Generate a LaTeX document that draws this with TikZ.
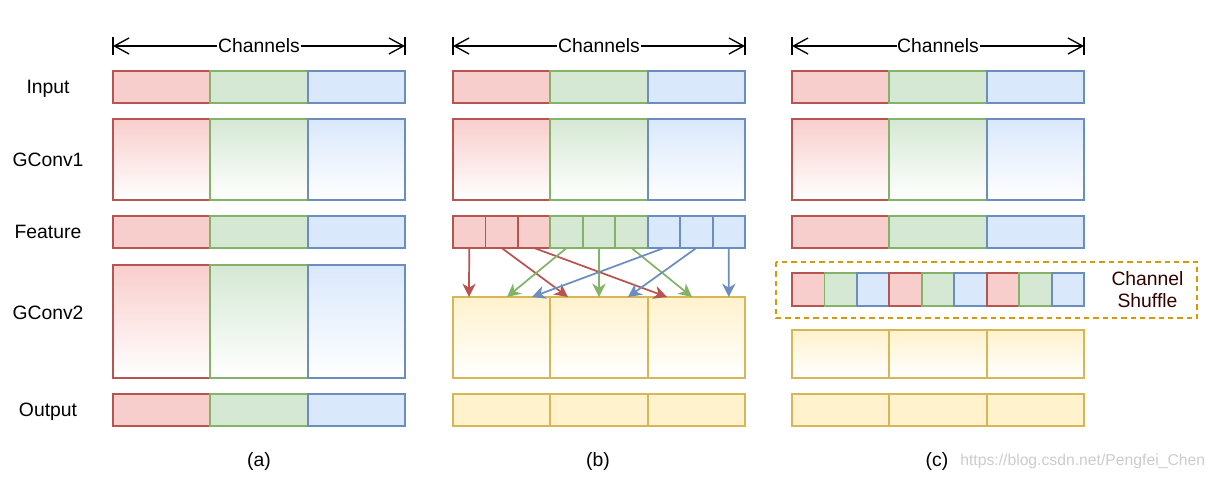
\documentclass[tikz,border=0pt]{standalone}
\usepackage{fontspec}
\setmainfont{Liberation Sans}
\usetikzlibrary{arrows.meta}
\definecolor{rfill}{HTML}{F8CECC}\definecolor{rline}{HTML}{B85450}
\definecolor{gfill}{HTML}{D5E8D4}\definecolor{gline}{HTML}{82B366}
\definecolor{bfill}{HTML}{DAE8FC}\definecolor{bline}{HTML}{6C8EBF}
\definecolor{yfill}{HTML}{FFF2CC}\definecolor{yline}{HTML}{D6B656}
\definecolor{oline}{HTML}{D79B00}\definecolor{dtext}{HTML}{330000}
\tikzset{
  cell/.style={draw, line width=1.4pt, inner sep=0pt, outer sep=0pt, anchor=north west},
  rplain/.style={cell, draw=rline, fill=rfill},
  gplain/.style={cell, draw=gline, fill=gfill},
  bplain/.style={cell, draw=bline, fill=bfill},
  yplain/.style={cell, draw=yline, fill=yfill},
  rgrad/.style={cell, draw=rline, top color=rfill, bottom color=white},
  ggrad/.style={cell, draw=gline, top color=gfill, bottom color=white},
  bgrad/.style={cell, draw=bline, top color=bfill, bottom color=white},
  ygrad/.style={cell, draw=yline, top color=yfill, bottom color=white},
  lbl/.style={font=\fontsize{14.5}{17}\selectfont, inner sep=0pt, text height=10.4pt, text depth=0pt},
  chan/.style={line width=1pt, {Straight Barb[length=11pt,width=12pt]}-{Straight Barb[length=11pt,width=12pt]}},
  mix/.style={line width=1.3pt, -{Stealth[length=10pt,width=10pt,inset=3pt]}},
}
\newcommand\cellat[6]{\node[#1, minimum width={((#4)-(#2))*0.75pt}, minimum height={((#5)-(#3))*0.75pt}] (#6) at (#2,#3) {};}
\newcommand\trio[5]{%
  \cellat{r#5}{#1}{#2}{#1+97.33}{#3}{#4r}%
  \cellat{g#5}{#1+97.33}{#2}{#1+194.67}{#3}{#4g}%
  \cellat{b#5}{#1+194.67}{#2}{#1+292}{#3}{#4b}}
\newcommand\ytrio[5]{%
  \cellat{y#5}{#1}{#2}{#1+97.33}{#3}{#4r}%
  \cellat{y#5}{#1+97.33}{#2}{#1+194.67}{#3}{#4g}%
  \cellat{y#5}{#1+194.67}{#2}{#1+292}{#3}{#4b}}
\begin{document}
\begin{tikzpicture}[x=0.75pt, y=-0.75pt]
\useasboundingbox (0,0) rectangle (1217,477);
% row labels
\node[lbl] (lin) at (48,87) {Input};
\node[lbl] (lg1) at (48,159.5) {GConv1};
\node[lbl] (lfe) at (48,232) {Feature};
\node[lbl] (lg2) at (48,313) {GConv2};
\node[lbl] (lout) at (48,410) {Output};
% channels arrows
\foreach \p/\x in {a/113, b/453, c/792} {
  \coordinate (cl\p) at (\x,46);
  \coordinate (cr\p) at (\x+292,46);
  \draw[chan] (cl\p) -- (cr\p);
  \draw[line width=1pt] ([yshift=6.5pt]cl\p) -- ([yshift=-6.5pt]cl\p);
  \draw[line width=1pt] ([yshift=6.5pt]cr\p) -- ([yshift=-6.5pt]cr\p);
  \node[lbl, fill=white, inner xsep=0.5pt] (ch\p) at (\x+146,46) {Channels};
}
% (a)
\trio{113}{71}{103}{ina}{plain}
\trio{113}{119}{200}{g1a}{grad}
\trio{113}{216}{248}{fea}{plain}
\trio{113}{265}{378}{g2a}{grad}
\trio{113}{394}{426}{outa}{plain}
% (b)
\trio{453}{71}{103}{inb}{plain}
\trio{453}{119}{200}{g1b}{grad}
\cellat{rplain}{453}{216}{485.44}{248}{fb0}
\cellat{rplain}{485.44}{216}{517.89}{248}{fb1}
\cellat{rplain}{517.89}{216}{550.33}{248}{fb2}
\cellat{gplain}{550.33}{216}{582.78}{248}{fb3}
\cellat{gplain}{582.78}{216}{615.22}{248}{fb4}
\cellat{gplain}{615.22}{216}{647.67}{248}{fb5}
\cellat{bplain}{647.67}{216}{680.11}{248}{fb6}
\cellat{bplain}{680.11}{216}{712.56}{248}{fb7}
\cellat{bplain}{712.56}{216}{745}{248}{fb8}
\ytrio{453}{297}{378}{g2b}{grad}
\ytrio{453}{394}{426}{outb}{plain}
% shuffle arrows (b)
\coordinate (t0) at (469,297);
\coordinate (t1) at (568,297);
\coordinate (t2) at (667,297);
\coordinate (t3) at (507,297);
\coordinate (t4) at (599,297);
\coordinate (t5) at (692,297);
\coordinate (t6) at (532,297);
\coordinate (t7) at (628,297);
\coordinate (t8) at (728.8,297);
\draw[mix, rline] (fb0.south) -- (t0);
\draw[mix, rline] (fb1.south) -- (t1);
\draw[mix, rline] (fb2.south) -- (t2);
\draw[mix, gline] (fb3.south) -- (t3);
\draw[mix, gline] (fb4.south) -- (t4);
\draw[mix, gline] (fb5.south) -- (t5);
\draw[mix, bline] (fb6.south) -- (t6);
\draw[mix, bline] (fb7.south) -- (t7);
\draw[mix, bline] (fb8.south) -- (t8);
% (c)
\trio{792}{71}{103}{inc}{plain}
\trio{792}{119}{200}{g1c}{grad}
\trio{792}{216}{248}{fec}{plain}
\draw[oline, line width=1.1pt, dash pattern=on 4pt off 3pt] (776,262) rectangle (1197,318);
\cellat{rplain}{792}{273}{824.44}{306}{sh0}
\cellat{gplain}{824.44}{273}{856.89}{306}{sh1}
\cellat{bplain}{856.89}{273}{889.33}{306}{sh2}
\cellat{rplain}{889.33}{273}{921.78}{306}{sh3}
\cellat{gplain}{921.78}{273}{954.22}{306}{sh4}
\cellat{bplain}{954.22}{273}{986.67}{306}{sh5}
\cellat{rplain}{986.67}{273}{1019.11}{306}{sh6}
\cellat{gplain}{1019.11}{273}{1051.56}{306}{sh7}
\cellat{bplain}{1051.56}{273}{1084}{306}{sh8}
\node[lbl, text=dtext] (cs1) at (1147.5,279) {Channel};
\node[lbl, text=dtext] (cs2) at (1147.5,301) {Shuffle};
\ytrio{792}{330}{378}{g2c}{grad}
\ytrio{792}{394}{426}{outc}{plain}
% captions
\node[lbl] (capa) at (259,460) {(a)};
\node[lbl] (capb) at (598,460) {(b)};
\node[lbl] (capc) at (937,460) {(c)};
\node[font=\fontsize{11.8}{14}\selectfont, text=black!20, inner sep=0pt, anchor=west, text height=8.45pt, text depth=0pt] (wm) at (960,460) {https://blog.csdn.net/Pengfei\_Chen};
\end{tikzpicture}
\end{document}
